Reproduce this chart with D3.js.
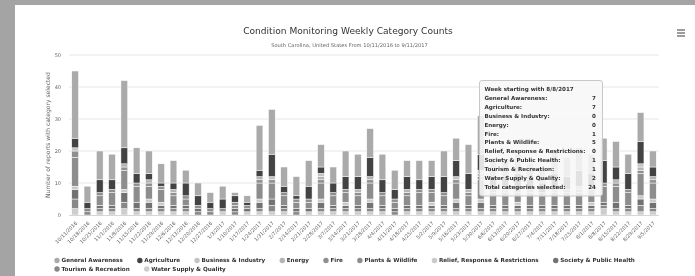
<!DOCTYPE html>
<html><head><meta charset="utf-8">
<script src="https://cdn.jsdelivr.net/npm/d3@7"></script>
<style>
html,body{margin:0;padding:0;background:#a4a4a4;overflow:hidden;}
svg{display:block;font-family:"DejaVu Sans",sans-serif;filter:grayscale(100%);-webkit-font-smoothing:antialiased;}
</style></head><body>
<svg id="c" width="695" height="276"></svg>
<script>
const weeks = ["10/11/2016","10/18/2016","10/25/2016","11/1/2016","11/8/2016","11/15/2016","11/22/2016","11/29/2016","12/6/2016","12/13/2016","12/20/2016","12/27/2016","1/3/2017","1/10/2017","1/17/2017","1/24/2017","1/31/2017","2/7/2017","2/14/2017","2/21/2017","2/28/2017","3/7/2017","3/14/2017","3/21/2017","3/28/2017","4/4/2017","4/11/2017","4/18/2017","4/25/2017","5/2/2017","5/9/2017","5/16/2017","5/23/2017","5/30/2017","6/6/2017","6/13/2017","6/20/2017","6/27/2017","7/4/2017","7/11/2017","7/18/2017","7/25/2017","8/1/2017","8/8/2017","8/15/2017","8/22/2017","8/29/2017","9/5/2017"];
const seriesNames = ["General Awareness","Agriculture","Business & Industry","Energy","Fire","Plants & Wildlife","Relief, Response & Restrictions","Society & Public Health","Tourism & Recreation","Water Supply & Quality"];
const seriesColors = ["#aaaaaa","#434343","#c4c4c4","#b4b4b4","#8f8f8f","#8d8d8d","#cacaca","#727272","#888888","#cdcdcd"];
const generalAwareness = [21,5,9,8,21,8,7,6,7,4,4,3,4,1,2,14,14,6,6,8,7,5,8,7,9,8,6,5,6,5,8,7,9,12,6,5,6,5,4,7,6,7,6,7,8,6,9,5];
const agriculture      = [3,2,4,3,5,3,2,1,2,4,3,2,3,2,1,2,7,2,1,4,2,3,4,4,6,4,3,4,3,4,5,5,5,5,4,4,5,3,3,5,4,5,4,7,4,5,7,3];
const businessIndustry = [1,0,0,0,0,0,0,0,0,0,0,0,0,0,0,0,1,0,0,0,1,0,0,0,0,0,0,0,0,0,0,1,0,1,0,0,0,0,0,0,0,0,0,0,0,0,1,0];
const energy           = [0,0,0,0,1,0,1,0,1,0,0,0,0,0,0,1,0,0,0,0,1,0,0,1,1,0,0,1,0,0,0,0,1,1,0,1,0,0,0,1,0,1,0,0,1,0,1,1];
const fire             = [2,0,1,1,1,1,1,1,1,1,0,0,0,1,0,1,1,1,1,1,1,1,1,1,1,1,1,1,1,1,1,1,1,1,1,1,1,1,1,1,1,1,1,1,1,1,1,1];
const plantsWildlife   = [9,1,3,4,6,5,4,4,3,2,1,1,1,1,1,5,5,3,2,2,5,3,3,3,5,3,2,3,4,3,3,5,3,6,4,3,3,4,3,3,4,4,4,5,5,4,7,5];
const reliefResponse   = [1,0,0,0,1,0,1,1,0,0,0,0,0,0,0,1,0,0,0,0,1,0,1,0,1,0,0,0,0,1,0,1,0,1,0,0,1,0,0,0,0,0,1,0,0,0,1,1];
const societyHealth    = [3,0,1,1,3,2,2,1,1,1,1,0,0,1,1,2,2,1,1,1,2,1,1,1,2,1,1,1,1,1,1,2,1,2,1,1,1,1,1,1,1,1,1,1,2,1,2,2];
const tourismRecreation= [3,1,1,1,2,1,1,1,1,1,1,1,0,1,0,1,2,1,1,0,1,1,1,1,1,1,1,1,1,1,1,1,1,1,1,1,1,1,1,1,1,1,1,1,1,1,2,1];
const waterSupply      = [2,0,1,1,2,1,1,1,1,1,0,0,1,0,1,1,1,1,0,1,1,1,1,1,1,1,0,1,1,1,1,1,1,1,1,1,1,1,1,1,1,1,1,2,1,1,1,1];
const yTicks = [0,10,20,30,40,50];
const titleText = "Condition Monitoring Weekly Category Counts";
const subtitleText = "South Carolina, United States From 10/11/2016 to 9/11/2017";
const yAxisTitle = "Number of reports with category selected";
const tooltipWeek = "8/8/2017";

const seriesValues = [generalAwareness,agriculture,businessIndustry,energy,fire,plantsWildlife,reliefResponse,societyHealth,tourismRecreation,waterSupply];
const keys = seriesNames;
const table = weeks.map((w,i)=>{const o={week:w}; keys.forEach((k,j)=>o[k]=seriesValues[j][i]); return o;});
// Highcharts stacks first series on top -> stack in reverse order
const stack = d3.stack().keys(keys.slice().reverse())(table);
const color = d3.scaleOrdinal().domain(keys).range(seriesColors);

const svg = d3.select("#c");
const ink = "#333", muted = "#666";
svg.append("rect").attr("x",15).attr("y",5).attr("width",680).attr("height",271).attr("fill","#fff");

function fit(sel, w){ const l = sel.node().getComputedTextLength(); const fs = parseFloat(sel.attr("font-size")); const n = fs*w/l; sel.attr("font-size", n); return n; }

const L = 69, R = 659, T = 55, B = 215;
const x = d3.scaleBand().domain(weeks).range([L,R]).paddingInner(0.45).paddingOuter(0.225);
const y = d3.scaleLinear().domain([0,50]).range([B,T]);

// grid
svg.append("g").selectAll("line").data(yTicks.filter(t=>t>0)).join("line")
  .attr("x1",L).attr("x2",R).attr("y1",d=>y(d)).attr("y2",d=>y(d))
  .attr("stroke","#e6e6e6").attr("stroke-width",1);
// y axis labels
const yAxis = d3.axisLeft(y).tickValues(yTicks).tickSize(0).tickPadding(7);
const gy = svg.append("g").attr("transform",`translate(${L-1},0)`).call(yAxis);
gy.select(".domain").remove();
gy.selectAll("text").attr("font-size",5).attr("fill",muted).attr("font-family","DejaVu Sans");

// bars
svg.append("g").selectAll("g").data(stack).join("g").attr("fill",d=>color(d.key))
  .selectAll("rect").data(d=>d.filter(s=>s[1]>s[0])).join("rect")
  .attr("x",d=>x(d.data.week)).attr("width",x.bandwidth())
  .attr("y",d=>y(d[1])).attr("height",d=>y(d[0])-y(d[1]))
  .attr("stroke","#fff").attr("stroke-width",0.5);

// x axis line
svg.append("line").attr("x1",L).attr("x2",R).attr("y1",B+0.5).attr("y2",B+0.5).attr("stroke","#d6d6d6").attr("stroke-width",1);
// x labels
const xAxis = d3.axisBottom(x).tickSize(0).tickPadding(0);
const gx = svg.append("g").attr("transform",`translate(0,${B})`).call(xAxis);
gx.select(".domain").remove();
const xl = gx.selectAll("text").attr("font-size",5).attr("fill",muted).attr("font-family","DejaVu Sans")
  .attr("text-anchor","end").attr("dy",null).attr("y",0)
  .attr("transform","translate(2.5,8.5) rotate(-45)");
const xfs = fit(gx.select("text"), 29);
xl.attr("font-size", xfs);

// y title
const yt = svg.append("text").attr("transform","translate(48,135) rotate(-90)").attr("text-anchor","middle")
  .attr("font-size",6).attr("fill",muted).attr("dy","0.35em").text(yAxisTitle);
fit(yt,126);

// title/subtitle
const tt = svg.append("text").attr("x",348).attr("y",31).attr("text-anchor","middle").attr("dy","0.35em")
  .attr("font-size",9).attr("fill",ink).text(titleText);
fit(tt,210);
const st = svg.append("text").attr("x",349.5).attr("y",45).attr("text-anchor","middle").attr("dy","0.35em")
  .attr("font-size",5.5).attr("fill",muted).text(subtitleText);
fit(st,157);

// hamburger
svg.append("g").selectAll("line").data([30,33,36]).join("line")
  .attr("x1",677).attr("x2",685).attr("y1",d=>d).attr("y2",d=>d).attr("stroke","#666").attr("stroke-width",1.3);

// legend
const probe = svg.append("text").attr("font-size",6).attr("font-weight","bold").text("Relief, Response & Restrictions");
const lfs = fit(probe,100); probe.remove();
const rows = [keys.slice(0,8), keys.slice(8)];
const rowY = [260.5, 269];
rows.forEach((row,ri)=>{
  let cx = 57;
  row.forEach(k=>{
    const g = svg.append("g");
    g.append("circle").attr("cx",cx).attr("cy",rowY[ri]).attr("r",2.7).attr("fill",color(k));
    const t = g.append("text").attr("x",cx+4.5).attr("y",rowY[ri]).attr("dy","0.35em")
      .attr("font-size",lfs).attr("font-weight","bold").attr("fill",ink).text(k);
    cx = cx + 4.5 + t.node().getComputedTextLength() + 17;
  });
});

// tooltip
const ti = weeks.indexOf(tooltipWeek);
const tg = svg.append("g");
tg.append("rect").attr("x",479.5).attr("y",80.5).attr("width",123).attr("height",115.5).attr("rx",2.5)
  .attr("fill","rgba(247,247,247,0.88)").attr("stroke","#c8c8c8").attr("stroke-width",1);
const probe2 = svg.append("text").attr("font-size",6).attr("font-weight","bold").text("Relief, Response & Restrictions:");
const tfs = fit(probe2,101); probe2.remove();
const lines = [["Week starting with "+tooltipWeek,""]].concat(keys.map((k,j)=>[k+":", seriesValues[j][ti]]))
  .concat([["Total categories selected:", d3.sum(seriesValues,s=>s[ti])]]);
lines.forEach((ln,i)=>{
  const yy = 89.3 + i*8.85;
  tg.append("text").attr("x",484.5).attr("y",yy).attr("dy","0.35em").attr("font-size",tfs).attr("font-weight","bold").attr("fill",ink).text(ln[0]);
  if(ln[1]!=="") tg.append("text").attr("x",596).attr("y",yy).attr("dy","0.35em").attr("text-anchor","end").attr("font-size",tfs).attr("font-weight","bold").attr("fill",ink).text(ln[1]);
});
</script>
</body></html>
